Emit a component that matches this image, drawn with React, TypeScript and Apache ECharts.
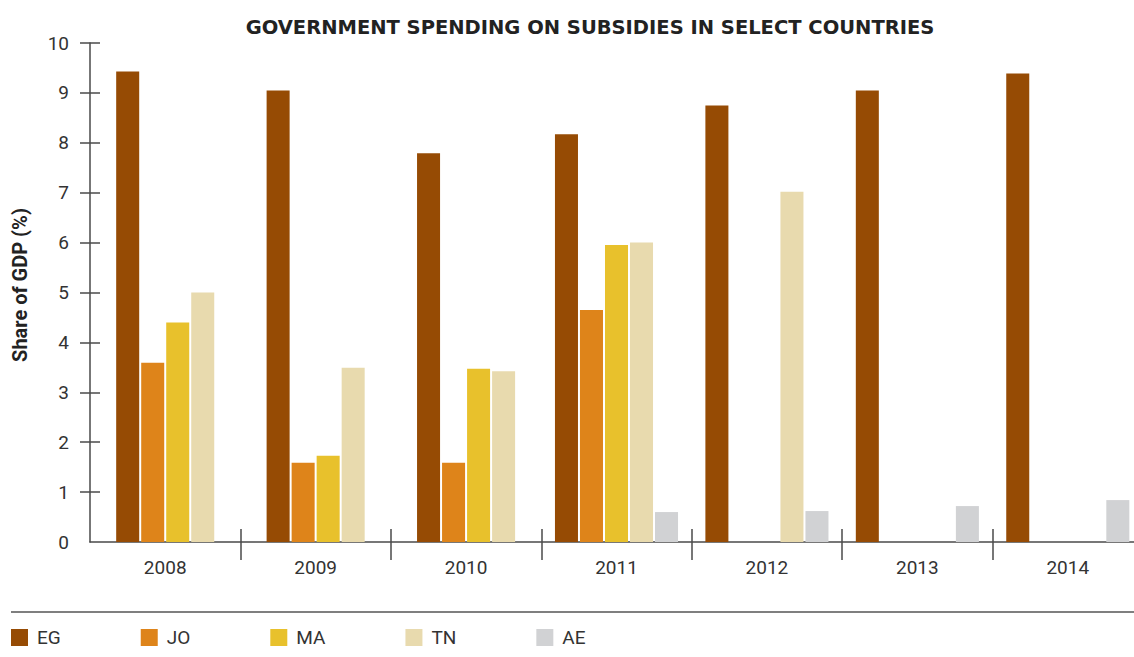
import React, { useEffect, useRef } from "react";
import * as echarts from "echarts";

const categories = ["2008", "2009", "2010", "2011", "2012", "2013", "2014"];
const countries = ["EG", "JO", "MA", "TN", "AE"];
const EG = [9.43, 9.05, 7.79, 8.17, 8.75, 9.05, 9.39];
const JO = [3.59, 1.59, 1.59, 4.65, null, null, null];
const MA = [4.4, 1.73, 3.47, 5.95, null, null, null];
const TN = [5.0, 3.49, 3.42, 6.0, 7.02, null, null];
const AE = [null, null, null, 0.6, 0.62, 0.72, 0.84];
const yTicks = [1, 2, 3, 4, 5, 6, 7, 8, 9, 10];
const colors = ["#964B04", "#DE841A", "#E8C12C", "#E8DAAE", "#D1D2D4"];

const allData = [EG, JO, MA, TN, AE];

const FONT = "Roboto, 'DejaVu Sans', sans-serif";

export default function App() {
  const ref = useRef<HTMLDivElement>(null);
  useEffect(() => {
    if (!ref.current) return;
    const chart = echarts.init(ref.current, undefined, { renderer: "svg" });

    const makeRender = (sIdx: number) => (params: any, api: any) => {
      const ci = api.value(0);
      const v = api.value(1);
      const present: number[] = [];
      allData.forEach((arr, k) => {
        if (arr[ci] !== null && arr[ci] !== undefined) present.push(k);
      });
      const first = Math.min(...present);
      const last = Math.max(...present);
      const nSlots = last - first + 1;
      const band = api.size([1, 0])[0];
      const barW = band * 0.153;
      const gap = band * 0.0133;
      const groupW = nSlots * barW + (nSlots - 1) * gap;
      const top = api.coord([ci, v]);
      const base = api.coord([ci, 0]);
      const x = top[0] - groupW / 2 + (sIdx - first) * (barW + gap);
      return {
        type: "rect",
        shape: { x, y: top[1], width: barW, height: base[1] - top[1] },
        style: { fill: colors[sIdx] },
      };
    };

    const series = allData.map((arr, sIdx) => ({
      type: "custom",
      name: countries[sIdx],
      renderItem: makeRender(sIdx),
      encode: { x: 0, y: 1 },
      itemStyle: { color: colors[sIdx] },
      data: arr
        .map((v, i) => (v === null ? null : [i, v]))
        .filter((d) => d !== null),
    }));

    chart.setOption({
      animation: false,
      textStyle: { fontFamily: FONT },
      grid: {
        left: 90,
        right: -9,
        top: 43,
        bottom: 115,
        containLabel: false,
        outerBoundsMode: "none",
      },
      legend: {
        left: 11,
        top: 628,
        padding: 0,
        itemWidth: 17,
        itemHeight: 17,
        itemGap: 80,
        icon: "rect",
        data: countries,
        textStyle: {
          fontSize: 19,
          color: "#333",
          fontFamily: FONT,
          padding: [0, 0, 0, 4],
        },
        selectedMode: false,
      },
      xAxis: [
        {
          type: "category",
          data: categories,
          boundaryGap: true,
          axisLine: { lineStyle: { color: "#4a4a4a", width: 1.5 } },
          axisTick: {
            show: true,
            length: 18,
            interval: (i: number) => i !== 0,
            lineStyle: { color: "#4a4a4a", width: 1.5 },
          },
          axisLabel: { fontSize: 19, color: "#333", margin: 16, fontFamily: FONT },
        },
        {
          type: "category",
          data: categories,
          position: "bottom",
          boundaryGap: true,
          axisLine: { show: false },
          axisTick: {
            show: true,
            inside: true,
            length: 13,
            interval: (i: number) => i !== 0,
            lineStyle: { color: "#4a4a4a", width: 1.5 },
          },
          axisLabel: { show: false },
        },
      ],
      yAxis: [
        {
          type: "value",
          min: 0,
          max: 10,
          interval: 1,
          splitLine: { show: false },
          axisLine: { show: true, lineStyle: { color: "#4a4a4a", width: 1.5 } },
          axisTick: {
            show: true,
            length: 10,
            customValues: yTicks,
            lineStyle: { color: "#4a4a4a", width: 1.5 },
          },
          axisLabel: { fontSize: 19, color: "#333", margin: 21, fontFamily: FONT },
        },
        {
          type: "value",
          min: 0,
          max: 10,
          interval: 1,
          position: "left",
          splitLine: { show: false },
          axisLine: { show: false },
          axisTick: {
            show: true,
            inside: true,
            length: 10,
            customValues: yTicks,
            lineStyle: { color: "#4a4a4a", width: 1.5 },
          },
          axisLabel: { show: false },
        },
      ],
      graphic: [
        {
          type: "text",
          x: 590,
          y: 27,
          style: {
            text: "GOVERNMENT SPENDING ON SUBSIDIES IN SELECT COUNTRIES",
            align: "center",
            verticalAlign: "middle",
            font: "bold 19.5px 'DejaVu Sans', sans-serif",
            fill: "#222",
          },
        },
        {
          type: "text",
          x: 20,
          y: 285,
          rotation: Math.PI / 2,
          style: {
            text: "Share of GDP (%)",
            align: "center",
            verticalAlign: "middle",
            font: "bold 20px Roboto, sans-serif",
            fill: "#222",
          },
        },
        {
          type: "line",
          shape: { x1: 11, y1: 612, x2: 1134, y2: 612 },
          style: { stroke: "#555", lineWidth: 1.5 },
        },
      ],
      series,
    });
    return () => chart.dispose();
  }, []);
  return <div ref={ref} style={{ width: 1134, height: 657, position: "absolute", left: 0, top: 0 }} />;
}
